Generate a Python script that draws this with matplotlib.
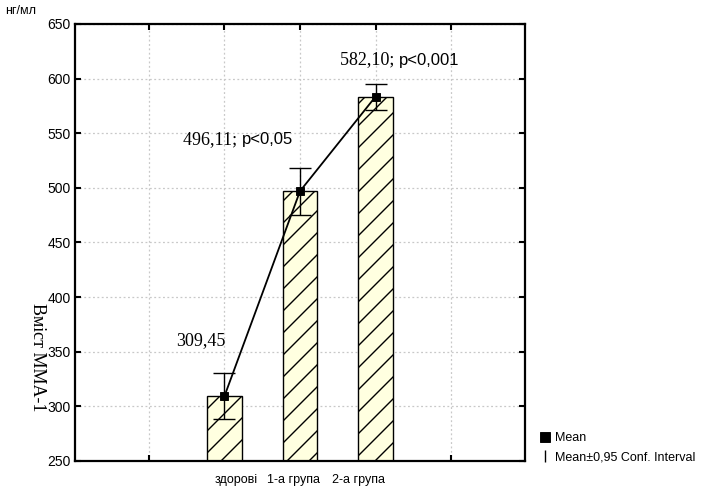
import matplotlib.pyplot as plt
from matplotlib.lines import Line2D
import numpy as np

# data
groups = ['здорові', '1-а група', '2-а група']
means = [309.45, 497.0, 583.5]
ci_half = [20.7, 21.5, 12.0]
labels_num = ['309,45', '496,11; ', '582,10; ']
labels_p = ['', 'p<0,05', 'p<0,001']
yticks = [250, 300, 350, 400, 450, 500, 550, 600, 650]

serif = 'Liberation Serif'
sans = 'Liberation Sans'

# low dpi so the hatch lines come out as sparse as in the reference;
# every size given in points is scaled by k to keep pixel sizes
DPI = 66
k = 100 / DPI

fig = plt.figure(figsize=(720 / DPI, 490 / DPI), dpi=DPI)
ax = fig.add_axes([75 / 720, 1 - 461 / 490, 450 / 720, 437 / 490])
plt.rcParams['hatch.linewidth'] = 1.0 * k

x = np.arange(1, len(groups) + 1)
ax.bar(x, means, width=0.46, color='#ffffe0', edgecolor='black',
       hatch='/', linewidth=1.0 * k, zorder=2)
ax.errorbar(x, means, yerr=ci_half, fmt='none', ecolor='black',
            elinewidth=1.0 * k, capsize=8 * k, capthick=1.0 * k, zorder=4)
ax.plot(x, means, color='black', lw=1.3 * k, marker='s', markersize=6 * k,
        markerfacecolor='black', zorder=5)

ax.set_xlim(-0.98, 4.98)
ax.set_ylim(250, 650)
ax.set_xticks(range(5))
ax.set_xticklabels([])
ax.set_yticks(yticks)
ax.set_yticklabels([str(v) for v in yticks], fontfamily=sans, fontsize=10 * k)
ax.tick_params(direction='in', length=4 * k, width=1.5 * k, top=True,
               right=True, pad=3 * k)
ax.grid(True, color='#c8c8c8', linestyle=(0, (1.5, 2)), lw=0.9 * k, zorder=0)
for s in ax.spines.values():
    s.set_linewidth(1.6 * k)

# category labels under the axis
lab_x = [1.15, 1.92, 2.78]
for lx, g in zip(lab_x, groups):
    ax.text(lx, -0.03, g, transform=ax.get_xaxis_transform(), ha='center',
            va='top', fontsize=9 * k, fontfamily=sans)

# value annotations
pos = [(0.36, 360), (0.45, 544.5), (2.53, 617)]
for (px, py), num, p in zip(pos, labels_num, labels_p):
    t = ax.text(px, py, num, fontsize=13 * k, fontfamily=serif, va='center',
                ha='left')
    if p:
        ax.annotate(p, xy=(1, 0.5), xycoords=t, va='center', ha='left',
                    fontsize=12 * k, fontfamily=sans)

fig.text(5 / 720, 1 - 11 / 490, 'нг/мл', fontsize=9 * k, fontfamily=sans,
         ha='left', va='center')
fig.text(37 / 720, 1 - 357 / 490, 'Вміст ММА-1', rotation=270,
         fontsize=13 * k, fontfamily=serif, ha='center', va='center')

handles = [
    Line2D([], [], color='black', marker='s', markersize=7 * k,
           linestyle='none', markerfacecolor='black'),
    ax.errorbar([], [], yerr=[], fmt='none', ecolor='black', capsize=4 * k),
]
fig.legend(handles, ['Mean', 'Mean±0,95 Conf. Interval'], loc='lower left',
           bbox_to_anchor=(530 / 720, 1 - 472 / 490), frameon=False,
           prop={'family': sans, 'size': 9 * k}, handlelength=1.0,
           handletextpad=0.3, labelspacing=0.55, borderpad=0.2)

plt.savefig('out.png', dpi=DPI)
